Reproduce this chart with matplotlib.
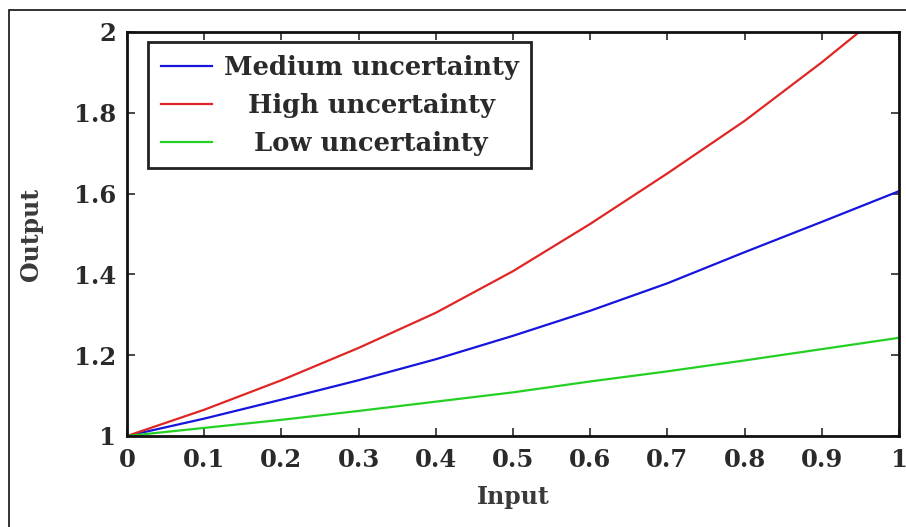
import matplotlib
matplotlib.use("Agg")
import matplotlib.pyplot as plt
from matplotlib.patches import Rectangle

# Data
x_vals = [0.0, 0.1, 0.2, 0.3, 0.4, 0.5, 0.6, 0.7, 0.8, 0.9, 1.0]
medium = [1.0, 1.043, 1.090, 1.138, 1.190, 1.248, 1.310, 1.378, 1.455, 1.530, 1.606]
high = [1.0, 1.065, 1.138, 1.218, 1.305, 1.408, 1.525, 1.650, 1.780, 1.925, 2.080]
low = [1.0, 1.020, 1.040, 1.062, 1.085, 1.108, 1.135, 1.160, 1.187, 1.215, 1.243]
labels = ["Medium uncertainty", "High uncertainty", "Low uncertainty"]
xticks = [0, 0.1, 0.2, 0.3, 0.4, 0.5, 0.6, 0.7, 0.8, 0.9, 1]
xticklabels = ["0", "0.1", "0.2", "0.3", "0.4", "0.5", "0.6", "0.7", "0.8", "0.9", "1"]
yticks = [1, 1.2, 1.4, 1.6, 1.8, 2]
yticklabels = ["1", "1.2", "1.4", "1.6", "1.8", "2"]

plt.rcParams['font.family'] = ['DejaVu Serif']
plt.rcParams['font.weight'] = 'bold'

fig = plt.figure(figsize=(9.06, 5.27), dpi=100)
ax = fig.add_axes([0.1402, 0.1727, 0.8521, 0.7666])

ax.plot(x_vals, medium, color="#1515dd", lw=1.6, label=labels[0])
ax.plot(x_vals, high, color="#e02525", lw=1.6, label=labels[1])
ax.plot(x_vals, low, color="#25d025", lw=1.6, label=labels[2])

ax.set_xlim(0, 1)
ax.set_ylim(1, 2)
ax.set_xticks(xticks)
ax.set_xticklabels(xticklabels)
ax.set_yticks(yticks)
ax.set_yticklabels(yticklabels)
ax.tick_params(direction="in", length=6, width=1.2, top=True, right=True,
               labelsize=17.5, colors="#2a2a2a")
ax.tick_params(axis="x", pad=9)
ax.tick_params(axis="y", pad=8)
for s in ax.spines.values():
    s.set_linewidth(2.0)
    s.set_color("#111111")

ax.set_xlabel("Input", fontsize=17, fontweight="bold", color="#3a3a3a", labelpad=9)
ax.set_ylabel("Output", fontsize=17, fontweight="bold", color="#3a3a3a", labelpad=22)

leg = ax.legend(loc="upper left", bbox_to_anchor=(0.027, 0.975), fontsize=18.5,
                fancybox=False, edgecolor="#222222", framealpha=1,
                handlelength=2.0, handletextpad=0.45, borderpad=0.5,
                labelspacing=0.5, borderaxespad=0)
leg.get_frame().set_linewidth(2.0)
for t in leg.get_texts():
    t.set_color("#2a2a2a")

fig.canvas.draw()
renderer = fig.canvas.get_renderer()
widths = [t.get_window_extent(renderer).width for t in leg.get_texts()]
wmax = max(widths)
for t, w in zip(leg.get_texts(), widths):
    t.set_position(((wmax - w) / 2, 0))

# outer figure border (top and left visible)
fig.add_artist(Rectangle((9 / 906, -0.1), 1.2, 1.1 - 10 / 527, transform=fig.transFigure,
                         fill=False, edgecolor="#111111", lw=1.2, clip_on=False))

fig.savefig("out.png", dpi=100)
